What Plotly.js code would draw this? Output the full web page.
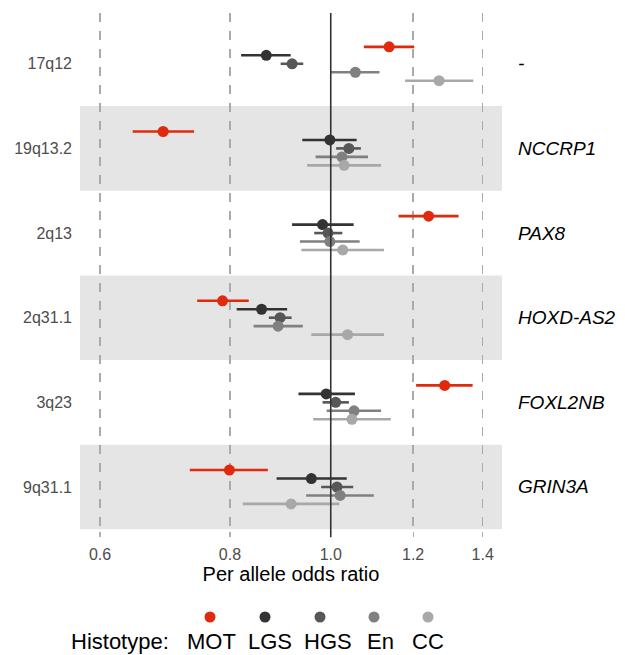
<!DOCTYPE html>
<html>
<head>
<meta charset="utf-8">
<script src="https://cdn.plot.ly/plotly-3.0.1.min.js"></script>
<style>html,body{margin:0;padding:0;background:#fff;}#chart{width:625px;height:655px;}</style>
</head>
<body>
<div id="chart"></div>
<script>
// Regions (top to bottom) and nearby genes
const regions = ["17q12", "19q13.2", "2q13", "2q31.1", "3q23", "9q31.1"];
const genes = ["-", "NCCRP1", "PAX8", "HOXD-AS2", "FOXL2NB", "GRIN3A"];
const histotypes = ["MOT", "LGS", "HGS", "En", "CC"];
const colors = ["#e0290d", "#333333", "#575757", "#808080", "#a8a8a8"];

// Per allele odds ratios and 95% CI, per histotype, in region order
const MOT_or = [1.138, 0.690, 1.242, 0.787, 1.287, 0.799];
const MOT_lo = [1.076, 0.645, 1.162, 0.744, 1.208, 0.732];
const MOT_hi = [1.203, 0.739, 1.327, 0.834, 1.369, 0.870];

const LGS_or = [0.867, 0.998, 0.982, 0.858, 0.990, 0.958];
const LGS_lo = [0.820, 0.939, 0.918, 0.812, 0.931, 0.887];
const LGS_hi = [0.915, 1.059, 1.052, 0.908, 1.055, 1.036];

const HGS_or = [0.918, 1.041, 0.994, 0.894, 1.011, 1.014];
const HGS_lo = [0.895, 1.012, 0.964, 0.872, 0.982, 0.979];
const HGS_hi = [0.941, 1.069, 1.026, 0.917, 1.041, 1.051];

const En_or = [1.056, 1.025, 0.998, 0.890, 1.053, 1.021];
const En_lo = [1.000, 0.967, 0.934, 0.843, 0.991, 0.947];
const En_hi = [1.114, 1.086, 1.066, 0.940, 1.118, 1.100];

const CC_or = [1.271, 1.030, 1.027, 1.038, 1.048, 0.916];
const CC_lo = [1.179, 0.949, 0.937, 0.958, 0.962, 0.823];
const CC_hi = [1.371, 1.118, 1.125, 1.125, 1.142, 1.019];

const tickVals = [0.6, 0.8, 1.0, 1.2, 1.4];
const tickText = ["0.6", "0.8", "1.0", "1.2", "1.4"];

const series = [
  [MOT_or, MOT_lo, MOT_hi],
  [LGS_or, LGS_lo, LGS_hi],
  [HGS_or, HGS_lo, HGS_hi],
  [En_or, En_lo, En_hi],
  [CC_or, CC_lo, CC_hi]
];

const FONT = "Liberation Sans, Arial, Helvetica, sans-serif";
const dodge = 0.1;

const traces = series.map((s, k) => {
  const [or, lo, hi] = s;
  return {
    type: "scatter",
    mode: "markers",
    name: histotypes[k],
    x: or,
    y: regions.map((r, i) => i + (k - 2) * dodge),
    marker: {color: colors[k], size: 11},
    error_x: {
      type: "data", symmetric: false,
      array: or.map((v, i) => hi[i] - v),
      arrayminus: or.map((v, i) => v - lo[i]),
      color: colors[k], thickness: 2.6, width: 0
    },
    showlegend: false,
    hoverinfo: "x+name"
  };
});

const shapes = [];
// Alternating grey bands
regions.forEach((r, i) => {
  if (i % 2 === 1) {
    shapes.push({type: "rect", xref: "paper", yref: "y", x0: 0, x1: 1,
      y0: i - 0.5, y1: i + 0.5, fillcolor: "#e5e5e5", line: {width: 0}, layer: "below"});
  }
});
// Reference line at OR = 1
shapes.push({type: "line", xref: "x", yref: "paper", x0: 1, x1: 1, y0: -0.012, y1: 1,
  line: {color: "#333333", width: 1.6}, layer: "above"});

const annotations = [];
// Gene labels on the right
genes.forEach((g, i) => {
  annotations.push({xref: "paper", yref: "y", x: 1.033, y: i, xanchor: "left", yanchor: "middle",
    text: "<i>" + g + "</i>", showarrow: false, font: {family: FONT, size: 19, color: "#000"}});
});

// Legend drawn below the plot: dot above label
const PW = 422, PL = 80;
const legY = -0.166, legTextY = -0.214;
const legDotPx = [210, 265, 320, 374, 428];
const legLabelPx = [211, 270, 328, 380, 428];
annotations.push({xref: "paper", yref: "paper", x: (171 - PL) / PW, y: legTextY, xanchor: "right",
  yanchor: "middle", text: "Histotype:", showarrow: false, font: {family: FONT, size: 22, color: "#000"}});
histotypes.forEach((h, k) => {
  const cx = (legDotPx[k] - PL) / PW;
  shapes.push({type: "circle", xref: "paper", yref: "paper", xsizemode: "pixel", ysizemode: "pixel",
    xanchor: cx, yanchor: legY, x0: -5.5, x1: 5.5, y0: -5.5, y1: 5.5,
    fillcolor: colors[k], line: {width: 0}});
  annotations.push({xref: "paper", yref: "paper", x: (legLabelPx[k] - PL) / PW, y: legTextY,
    xanchor: "center", yanchor: "middle",
    text: h, showarrow: false, font: {family: FONT, size: 22, color: "#000"}});
});

const layout = {
  width: 625, height: 655,
  margin: {l: 80, r: 123, t: 13, b: 124},
  paper_bgcolor: "#fff", plot_bgcolor: "rgba(0,0,0,0)",
  font: {family: FONT, color: "#4d4d4d"},
  showlegend: false,
  xaxis: {
    type: "log",
    range: [Math.log10(0.574), Math.log10(1.461)],
    tickvals: tickVals, ticktext: tickText,
    showgrid: true, gridcolor: "#aaaaaa", gridwidth: 1.3, griddash: "dash",
    ticks: "outside", ticklen: 5, tickcolor: "#b0b0b0", tickwidth: 1.2,
    showline: false, zeroline: false,
    tickfont: {family: FONT, size: 16, color: "#4d4d4d"},
    ticklabelstandoff: 4,
    title: {text: "Per allele odds ratio", font: {family: FONT, size: 20, color: "#000"}, standoff: 4},
    automargin: false, fixedrange: true
  },
  yaxis: {
    range: [5.52, -0.6],
    tickvals: regions.map((r, i) => i), ticktext: regions,
    showgrid: false, zeroline: false, showline: false, ticks: "",
    tickfont: {family: FONT, size: 16, color: "#4d4d4d"},
    ticklabelstandoff: 7,
    automargin: false, fixedrange: true
  },
  shapes: shapes,
  annotations: annotations
};

Plotly.newPlot("chart", traces, layout, {displayModeBar: false, staticPlot: true});
</script>
</body>
</html>
